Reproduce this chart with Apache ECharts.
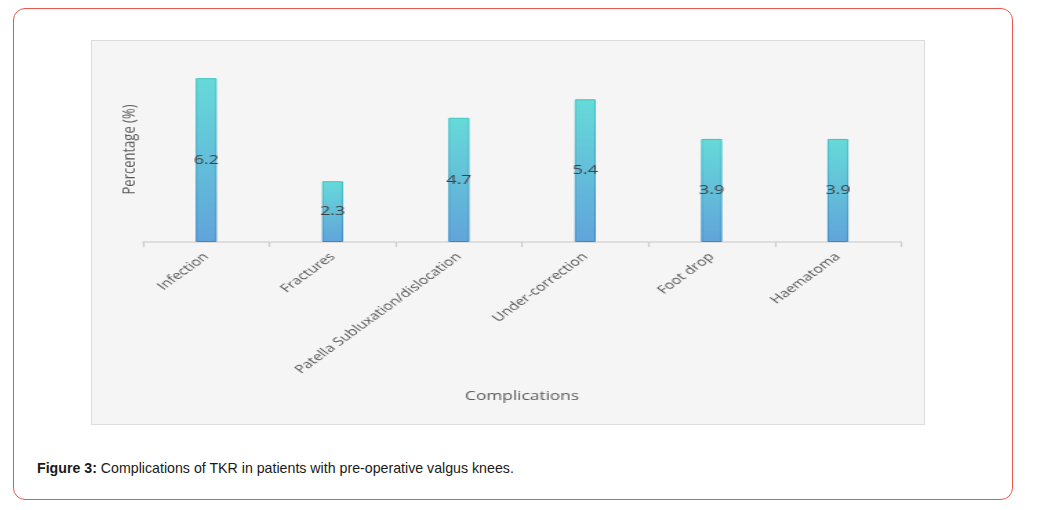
<!DOCTYPE html>
<html>
<head>
<meta charset="utf-8">
<script src="https://cdn.jsdelivr.net/npm/echarts@6/dist/echarts.min.js"></script>
<style>
  html, body { margin: 0; padding: 0; background: #fff; }
  #frame {
    position: absolute; left: 13px; top: 8px; width: 998px; height: 490px;
    border: 1.5px solid #e8584c; border-radius: 12px;
  }
  #panel {
    position: absolute; left: 91px; top: 40px; width: 832px; height: 383px;
    background: #f5f5f5; border: 1px solid #dcdcdc; overflow: hidden;
  }
  /* the source figure is stretched sideways, so the chart is too */
  #chart {
    position: absolute; left: 0; top: 0; width: 603px; height: 383px;
    transform: scaleX(1.38); transform-origin: 0 0;
  }
  #caption {
    position: absolute; left: 37px; top: 460px;
    font-family: "Liberation Sans", Arial, sans-serif; font-size: 14.2px; color: #1a1a1a;
  }
</style>
</head>
<body>
<div id="frame"></div>
<div id="panel"><div id="chart"></div></div>
<div id="caption"><b>Figure 3:</b> Complications of TKR in patients with pre-operative valgus knees.</div>
<script>
const categories = ["Infection", "Fractures", "Patella Subluxation/dislocation", "Under-correction", "Foot drop", "Haematoma"];
const percentages = [6.2, 2.3, 4.7, 5.4, 3.9, 3.9];

const chart = echarts.init(document.getElementById("chart"), null, { renderer: "canvas" });

chart.setOption({
  animation: false,
  backgroundColor: "transparent",
  textStyle: { fontFamily: "Open Sans" },
  grid: { left: 37, right: 16.7, top: 16, bottom: 182 },
  xAxis: {
    type: "category",
    data: categories,
    name: "Complications",
    nameLocation: "middle",
    nameGap: 148,
    nameTextStyle: { color: "#595959", fontSize: 12.5, fontFamily: "Open Sans" },
    axisLine: { lineStyle: { color: "#d6d6d6", width: 1.5 } },
    axisTick: { show: true, alignWithLabel: false, interval: 0, length: 5, lineStyle: { color: "#cccccc", width: 1.2 } },
    axisLabel: { rotate: 45, margin: 13, color: "#555555", fontSize: 11.5, fontFamily: "Open Sans" }
  },
  yAxis: {
    type: "value",
    min: 0,
    max: 7,
    name: "Percentage (%)",
    nameLocation: "middle",
    nameGap: 3,
    nameTextStyle: { color: "#595959", fontSize: 13, fontFamily: "Open Sans" },
    axisLine: { show: false },
    axisTick: { show: false },
    axisLabel: { show: false },
    splitLine: { show: false }
  },
  series: [{
    type: "bar",
    data: percentages,
    barWidth: 15.2,
    itemStyle: {
      color: new echarts.graphic.LinearGradient(0, 0, 0, 1, [
        { offset: 0, color: "#66dad9" },
        { offset: 1, color: "#61a4da" }
      ]),
      borderColor: new echarts.graphic.LinearGradient(0, 0, 0, 1, [
        { offset: 0, color: "#3fc3c3" },
        { offset: 1, color: "#3d86c6" }
      ]),
      borderWidth: 1
    },
    label: {
      show: true,
      position: "inside",
      color: "#404040",
      fontSize: 13,
      fontFamily: "Open Sans"
    }
  }]
});
</script>
</body>
</html>
